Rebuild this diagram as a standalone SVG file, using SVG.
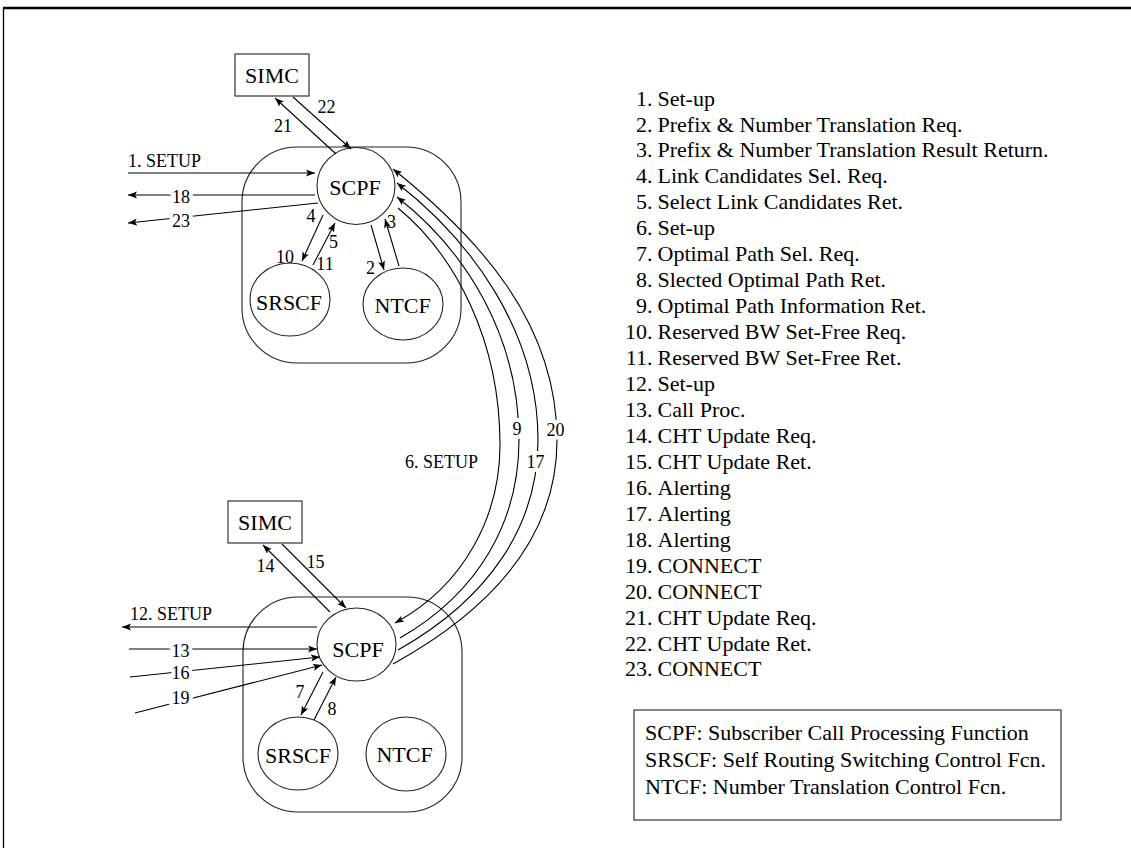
<svg xmlns="http://www.w3.org/2000/svg" width="1131" height="848" viewBox="0 0 1131 848">
<style>
text{font-family:"Liberation Serif","Times New Roman",serif;fill:#000}
.node{font-size:22px;text-anchor:middle}
.lbl{font-size:18px;text-anchor:middle}
.lbl-s{font-size:18px}
.halo{paint-order:stroke;stroke:#fff;stroke-width:8px;stroke-linejoin:round}
.list{font-size:22px}
.num{font-size:22px;text-anchor:end}
.shape{fill:#fff;stroke:#222;stroke-width:1.1}
.conn path{fill:none;stroke:#000;stroke-width:1.1;marker-end:url(#ah)}
</style>
<defs>
<marker id="ah" markerUnits="userSpaceOnUse" markerWidth="10" markerHeight="8" refX="9" refY="3.5" orient="auto">
<path d="M0,0 L9,3.5 L0,7 L2,3.5 z" fill="#000"/>
</marker>
</defs>
<rect width="1131" height="848" fill="#fff"/>
<g id="frame">
<line x1="3" y1="8" x2="1131" y2="8" stroke="#000" stroke-width="2.5"/>
<line x1="3.5" y1="8" x2="3.5" y2="848" stroke="#000" stroke-width="1.3"/>
</g>
<g id="group-top"><rect class="shape" x="242" y="147" width="219" height="216" rx="55" ry="55"/></g>
<g id="group-bottom"><rect class="shape" x="243" y="597" width="219" height="215" rx="55" ry="55"/></g>
<g id="simc-top"><rect class="shape" x="235" y="54" width="74" height="42"/><text class="node" x="272" y="83">SIMC</text></g>
<g id="scpf-top"><ellipse class="shape" cx="356" cy="186" rx="39" ry="38.5"/><text class="node" x="355" y="195">SCPF</text></g>
<g id="srscf-top"><ellipse class="shape" cx="290" cy="299.5" rx="40" ry="36.5"/><text class="node" x="289" y="310">SRSCF</text></g>
<g id="ntcf-top"><ellipse class="shape" cx="403" cy="304" rx="40" ry="36"/><text class="node" x="402.5" y="313">NTCF</text></g>
<g id="simc-bottom"><rect class="shape" x="228" y="501" width="74" height="42"/><text class="node" x="265" y="530">SIMC</text></g>
<g id="scpf-bottom"><ellipse class="shape" cx="356.5" cy="644.5" rx="39.5" ry="36.5"/><text class="node" x="358" y="657">SCPF</text></g>
<g id="srscf-bottom"><ellipse class="shape" cx="298" cy="753.5" rx="40" ry="36.5"/><text class="node" x="298" y="763">SRSCF</text></g>
<g id="ntcf-bottom"><ellipse class="shape" cx="406" cy="754" rx="40" ry="37"/><text class="node" x="404.5" y="762">NTCF</text></g>
<g id="connectors" class="conn">
<path d="M128,173 L315,173"/>
<path d="M315,195 L128,195"/>
<path d="M318,203 L128,223"/>
<path d="M336,154 L275,98"/>
<path d="M293,97 L351,149"/>
<path d="M323,215 L302,261"/>
<path d="M313,265 L335,223"/>
<path d="M371,225 L384,270"/>
<path d="M399,266 L385,219"/>
<path d="M398,208 C455,255 500,340 500,445 C500,515 465,585 395,623"/>
<path d="M400,638 C480,592 519,520 519,440 C519,335 465,250 397,197"/>
<path d="M398,650 C490,598 538,525 538,440 C538,330 470,240 397,183"/>
<path d="M393,664 C500,605 557,530 557,440 C557,320 475,235 393,169"/>
<path d="M317,627 L122,627"/>
<path d="M129,649 L317,649"/>
<path d="M130,677 L320,657"/>
<path d="M135,713 L322,665"/>
<path d="M330,612 L263,545"/>
<path d="M282,544 L346,608"/>
<path d="M323,672 L301,715"/>
<path d="M314,720 L336,677"/>
</g>
<g id="labels">
<text class="lbl-s" x="128" y="167">1. SETUP</text>
<text class="lbl halo" x="181" y="203">18</text>
<text class="lbl halo" x="181" y="227">23</text>
<text class="lbl" x="283" y="132">21</text>
<text class="lbl" x="326.5" y="113">22</text>
<text class="lbl" x="311" y="222">4</text>
<text class="lbl" x="285" y="263">10</text>
<text class="lbl" x="333.5" y="248">5</text>
<text class="lbl" x="325" y="270">11</text>
<text class="lbl" x="370.5" y="274">2</text>
<text class="lbl" x="391.5" y="228">3</text>
<text class="lbl-s" x="405" y="468">6. SETUP</text>
<text class="lbl halo" x="517" y="435">9</text>
<text class="lbl halo" x="535.5" y="468">17</text>
<text class="lbl halo" x="555.5" y="436">20</text>
<text class="lbl" x="265.5" y="572">14</text>
<text class="lbl" x="315.5" y="568">15</text>
<text class="lbl-s" x="130" y="620">12. SETUP</text>
<text class="lbl halo" x="180.5" y="657">13</text>
<text class="lbl halo" x="180.5" y="679">16</text>
<text class="lbl halo" x="180.5" y="704">19</text>
<text class="lbl" x="300" y="698">7</text>
<text class="lbl" x="332" y="715">8</text>
</g>
<g id="message-list">
<text class="num" x="652.5" y="105.5">1.</text><text class="list" x="657.5" y="105.5">Set-up</text>
<text class="num" x="652.5" y="131.5">2.</text><text class="list" x="657.5" y="131.5">Prefix &amp; Number Translation Req.</text>
<text class="num" x="652.5" y="157.4">3.</text><text class="list" x="657.5" y="157.4">Prefix &amp; Number Translation Result Return.</text>
<text class="num" x="652.5" y="183.4">4.</text><text class="list" x="657.5" y="183.4">Link Candidates Sel. Req.</text>
<text class="num" x="652.5" y="209.3">5.</text><text class="list" x="657.5" y="209.3">Select Link Candidates Ret.</text>
<text class="num" x="652.5" y="235.3">6.</text><text class="list" x="657.5" y="235.3">Set-up</text>
<text class="num" x="652.5" y="261.2">7.</text><text class="list" x="657.5" y="261.2">Optimal Path Sel. Req.</text>
<text class="num" x="652.5" y="287.2">8.</text><text class="list" x="657.5" y="287.2">Slected Optimal Path Ret.</text>
<text class="num" x="652.5" y="313.1">9.</text><text class="list" x="657.5" y="313.1">Optimal Path Information Ret.</text>
<text class="num" x="652.5" y="339.1">10.</text><text class="list" x="657.5" y="339.1">Reserved BW Set-Free Req.</text>
<text class="num" x="652.5" y="365">11.</text><text class="list" x="657.5" y="365">Reserved BW Set-Free Ret.</text>
<text class="num" x="652.5" y="391">12.</text><text class="list" x="657.5" y="391">Set-up</text>
<text class="num" x="652.5" y="416.9">13.</text><text class="list" x="657.5" y="416.9">Call Proc.</text>
<text class="num" x="652.5" y="442.9">14.</text><text class="list" x="657.5" y="442.9">CHT Update Req.</text>
<text class="num" x="652.5" y="468.8">15.</text><text class="list" x="657.5" y="468.8">CHT Update Ret.</text>
<text class="num" x="652.5" y="494.8">16.</text><text class="list" x="657.5" y="494.8">Alerting</text>
<text class="num" x="652.5" y="520.7">17.</text><text class="list" x="657.5" y="520.7">Alerting</text>
<text class="num" x="652.5" y="546.7">18.</text><text class="list" x="657.5" y="546.7">Alerting</text>
<text class="num" x="652.5" y="572.6">19.</text><text class="list" x="657.5" y="572.6">CONNECT</text>
<text class="num" x="652.5" y="598.6">20.</text><text class="list" x="657.5" y="598.6">CONNECT</text>
<text class="num" x="652.5" y="624.5">21.</text><text class="list" x="657.5" y="624.5">CHT Update Req.</text>
<text class="num" x="652.5" y="650.5">22.</text><text class="list" x="657.5" y="650.5">CHT Update Ret.</text>
<text class="num" x="652.5" y="676.4">23.</text><text class="list" x="657.5" y="676.4">CONNECT</text>
</g>
<g id="legend">
<rect class="shape" x="634" y="710" width="427" height="110"/>
<text class="list" x="645" y="740">SCPF: Subscriber Call Processing Function</text>
<text class="list" x="645" y="767">SRSCF: Self Routing Switching Control Fcn.</text>
<text class="list" x="645" y="794">NTCF: Number Translation Control Fcn.</text>
</g>
</svg>
